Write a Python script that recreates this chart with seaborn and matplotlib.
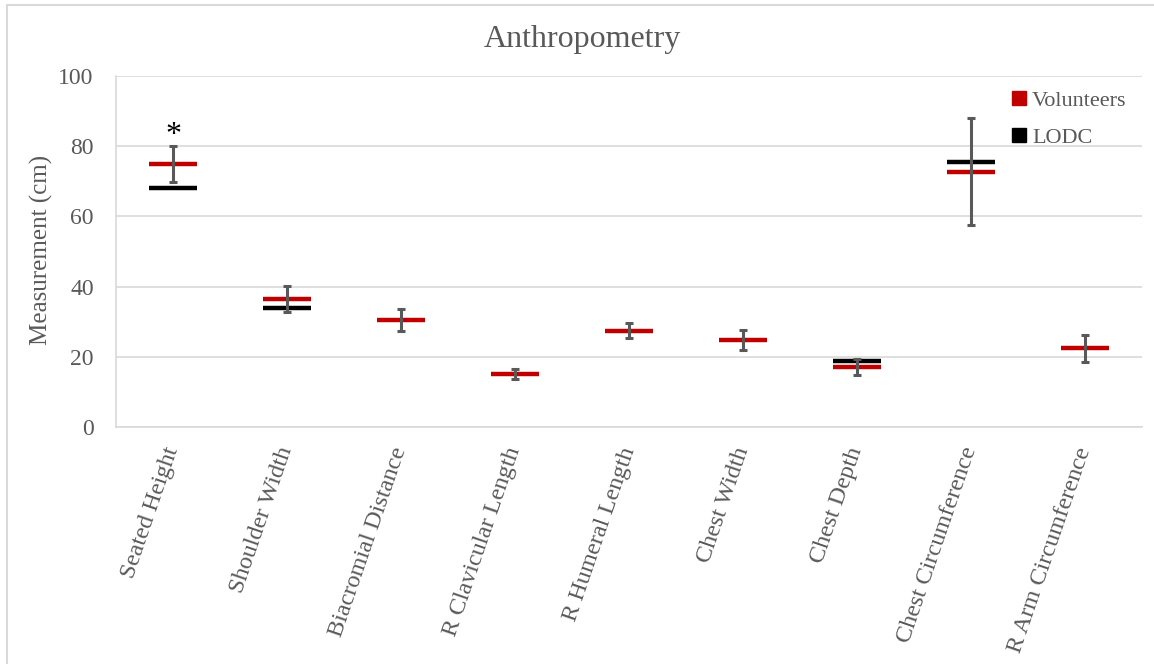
import numpy as np
import pandas as pd
import seaborn as sns
import matplotlib
matplotlib.use("Agg")
import matplotlib.pyplot as plt
from matplotlib.lines import Line2D
from matplotlib.patches import Rectangle
from matplotlib.markers import MarkerStyle

# Anthropometric measurements (cm)
measures = ["Seated Height", "Shoulder Width", "Biacromial Distance",
            "R Clavicular Length", "R Humeral Length", "Chest Width",
            "Chest Depth", "Chest Circumference", "R Arm Circumference"]
volunteers_mean = [75.0, 36.6, 30.4, 15.2, 27.4, 24.8, 17.1, 72.7, 22.4]
volunteers_sd = [5.1, 3.7, 3.1, 1.4, 2.1, 2.8, 2.4, 15.2, 3.8]
lodc_mean = [68.0, 34.0, None, None, None, None, 18.8, 75.4, None]
series_names = ["Volunteers", "LODC"]
series_colors = ["#C00000", "#000000"]
yticks = [0, 20, 40, 60, 80, 100]

grey = "#595959"
grid = "#D9D9D9"

sns.set_theme(style="white")
plt.rcParams["font.family"] = ["Liberation Serif", "DejaVu Serif"]

rows = []
for m, v in zip(measures, volunteers_mean):
    rows.append({"measure": m, "value": v, "group": "Volunteers"})
for m, v in zip(measures, lodc_mean):
    if v is not None:
        rows.append({"measure": m, "value": v, "group": "LODC"})
df = pd.DataFrame(rows)
df["measure"] = pd.Categorical(df["measure"], categories=measures, ordered=True)

fig = plt.figure(figsize=(11.54, 6.64), dpi=100)
ax = fig.add_axes([116 / 1154, 1 - 427 / 664, (1142 - 116) / 1154, (427 - 76) / 664])

dash = MarkerStyle("_", capstyle="round")
for name, color in zip(series_names[::-1], series_colors[::-1]):
    sub = df[df["group"] == name]
    sns.scatterplot(data=sub, x="measure", y="value", ax=ax, marker=dash,
                    s=1180, linewidth=3.2, color=color, edgecolor=color,
                    legend=False, zorder=3)

# standard deviation of the volunteer group
ax.errorbar(np.arange(len(measures)), volunteers_mean, yerr=volunteers_sd,
            fmt="none", ecolor=grey, elinewidth=2.2, capsize=2.8,
            capthick=2.2, zorder=4)

# significance marker
ax.annotate("*", xy=(0, volunteers_mean[0] + volunteers_sd[0]),
            xytext=(0, -3), textcoords="offset points", ha="center",
            va="bottom", fontsize=23, color="black")

ax.set_xlim(-0.5, len(measures) - 0.5)
ax.set_ylim(0, 100)
ax.set_yticks(yticks)
ax.set_yticklabels([str(t) for t in yticks])
ax.yaxis.grid(True, color=grid, linewidth=1.2)
ax.set_axisbelow(True)
for side in ["top", "right"]:
    ax.spines[side].set_visible(False)
for side in ["left", "bottom"]:
    ax.spines[side].set_color(grid)
    ax.spines[side].set_linewidth(1.2)
ax.set_xlabel("")
ax.set_ylabel("")
ax.tick_params(axis="y", length=0, pad=16, labelsize=17, labelcolor=grey)
ax.tick_params(axis="x", length=0, pad=15, labelsize=17.5, labelcolor=grey)
ax.set_xticks(np.arange(len(measures)))
ax.set_xticklabels(measures, rotation=71, ha="right", va="center",
                   rotation_mode="anchor")

fig.text(41 / 1154, 1 - 250 / 664, "Measurement (cm)", rotation=90,
         ha="center", va="center", fontsize=18, color=grey)
fig.text(582 / 1154, 1 - 47 / 664, "Anthropometry", ha="center",
         va="baseline", fontsize=23, color=grey)

handles = [Line2D([], [], linestyle="none", marker="s", markersize=9.5,
                  markerfacecolor=c, markeredgecolor=c)
           for c in series_colors]
ax.legend(handles, series_names, loc="upper left",
          bbox_to_anchor=(1012 / 1154, 1 - 90 / 664),
          bbox_transform=fig.transFigure, frameon=False, fontsize=16,
          handlelength=0.6, handletextpad=0.3, labelspacing=0.74,
          labelcolor=grey, borderaxespad=0, borderpad=0)

# chart area outline
fig.add_artist(Rectangle((7 / 1154, -0.05), 1.2, 1 - 5 / 664 + 0.05,
                         transform=fig.transFigure, fill=False,
                         edgecolor=grid, linewidth=1.5, clip_on=False))

fig.savefig("out.png", dpi=100)
